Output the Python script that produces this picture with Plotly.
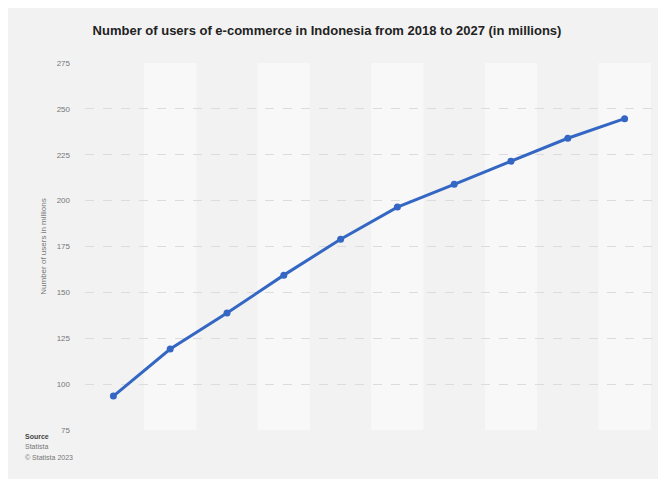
import plotly.graph_objects as go

years = ["2018", "2019", "2020", "2021", "2022", "2023", "2024", "2025", "2026", "2027"]
users = [93.5, 119.1, 138.7, 159.4, 178.94, 196.47, 208.9, 221.5, 234.0, 244.67]
y_ticks = [75, 100, 125, 150, 175, 200, 225, 250, 275]

FONT = "Liberation Sans, Arial, sans-serif"

fig = go.Figure()

# alternating column bands
shapes = []
for i in range(1, len(years), 2):
    shapes.append(dict(type="rect", xref="x", yref="y", x0=i - 0.46, x1=i + 0.46,
                       y0=75, y1=275, fillcolor="#f8f8f8", line=dict(width=0), layer="below"))

fig.add_trace(go.Scatter(
    x=list(range(len(years))), y=users, mode="lines+markers",
    line=dict(color="#3467c4", width=3),
    marker=dict(color="#3467c4", size=7),
    hoverinfo="y"
))

fig.update_layout(
    width=666, height=479,
    paper_bgcolor="#f2f2f2", plot_bgcolor="#f2f2f2",
    margin=dict(l=77, r=21, t=55, b=57),
    showlegend=False,
    shapes=shapes,
    title=dict(text="<b>Number of users of e-commerce in Indonesia from 2018 to 2027 (in millions)</b>",
               x=0.479, xanchor="center", y=0.954, yanchor="middle",
               font=dict(family=FONT, size=13, color="#222222")),
    xaxis=dict(range=[-0.5, len(years) - 0.5], showgrid=False, zeroline=False,
               showticklabels=False, tickvals=list(range(len(years))), ticktext=years),
    yaxis=dict(range=[75, 275], tickvals=y_ticks, ticktext=[str(v) for v in y_ticks],
               showgrid=True, gridcolor="#dcdcdc", griddash="dash", gridwidth=1,
               zeroline=False, ticks="", ticklabelstandoff=14,
               tickfont=dict(family=FONT, size=8, color="#777777"),
               title=dict(text="Number of users in millions", standoff=8,
                          font=dict(family=FONT, size=8, color="#777777"))),
    annotations=[
        dict(text="<b>Source</b>", xref="paper", yref="paper", x=-0.109, y=-0.019,
             xanchor="left", yanchor="middle", showarrow=False,
             font=dict(family=FONT, size=7, color="#444444")),
        dict(text="Statista", xref="paper", yref="paper", x=-0.109, y=-0.046,
             xanchor="left", yanchor="middle", showarrow=False,
             font=dict(family=FONT, size=7, color="#777777")),
        dict(text="© Statista 2023", xref="paper", yref="paper", x=-0.109, y=-0.076,
             xanchor="left", yanchor="middle", showarrow=False,
             font=dict(family=FONT, size=7, color="#777777")),
    ],
)

fig.write_html("out.html")
